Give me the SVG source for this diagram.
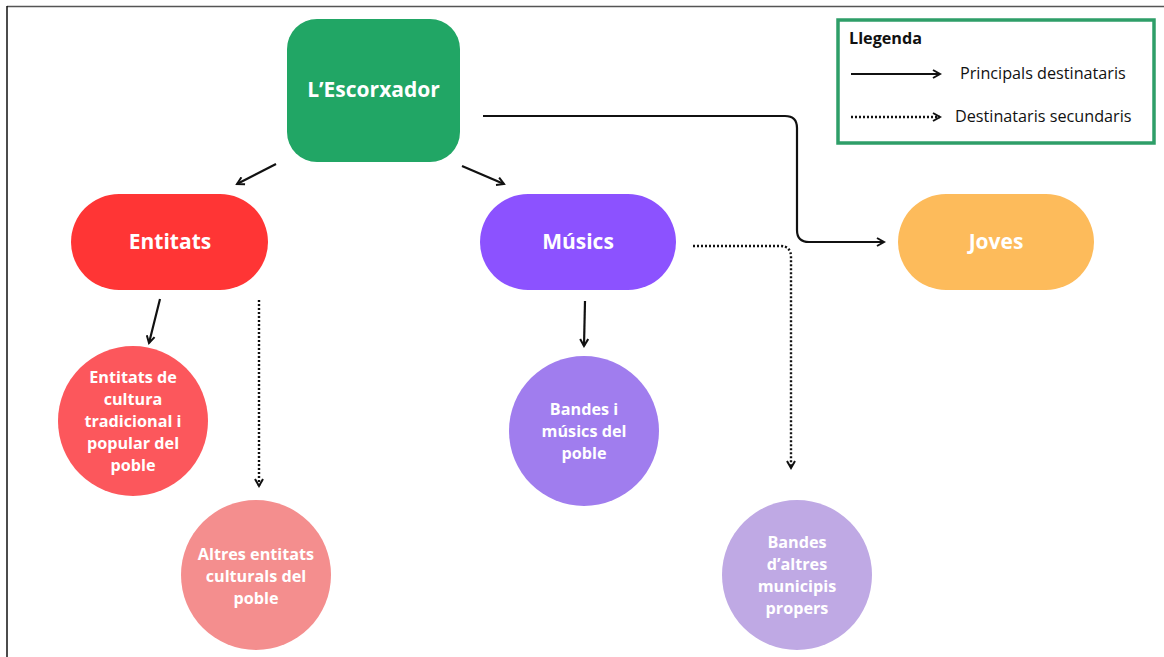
<svg xmlns="http://www.w3.org/2000/svg" width="1164" height="657" viewBox="0 0 1164 657">
<style>
.t{font-family:"Open Sans","Noto Sans","Liberation Sans",sans-serif;font-weight:700;fill:#fff;text-anchor:middle}
.big{font-size:21px}
.sm{font-size:16.2px}
.leg{font-family:"Open Sans","Noto Sans","Liberation Sans",sans-serif;font-size:16.2px;fill:#111}
.s{fill:none;stroke:#111;stroke-width:2.2}
.d{fill:none;stroke:#111;stroke-width:2.4;stroke-dasharray:2 2}
</style>
<defs>
<marker id="ah" viewBox="0 0 10 10" refX="8" refY="5" markerWidth="10" markerHeight="10" markerUnits="userSpaceOnUse" orient="auto">
<path d="M1,1 L8,5 L1,9" fill="none" stroke="#111" stroke-width="2"/>
</marker>
</defs>
<rect width="1164" height="657" fill="#fff"/>
<line x1="7" y1="6.5" x2="1164" y2="6.5" stroke="#555" stroke-width="1.5"/>
<line x1="7" y1="6" x2="7" y2="657" stroke="#111" stroke-width="1.5"/>

<g id="escorxador"><rect x="287" y="19" width="173" height="143" rx="30" fill="#21A665"/><text class="t big" x="373.5" y="97">L’Escorxador</text></g>
<g id="entitats"><rect x="71" y="194" width="197" height="96" rx="48" fill="#FF3535"/><text class="t big" x="170" y="249">Entitats</text></g>
<g id="musics"><rect x="480" y="194" width="196" height="96" rx="48" fill="#8C52FF"/><text class="t big" x="578" y="249">Músics</text></g>
<g id="joves"><rect x="898" y="194" width="196" height="96" rx="48" fill="#FDBB5B"/><text class="t big" x="996" y="249">Joves</text></g>

<g id="cultura"><circle cx="133" cy="421" r="75" fill="#FC575C"/>
<text class="t sm" x="133" y="383">Entitats de</text>
<text class="t sm" x="133" y="405">cultura</text>
<text class="t sm" x="133" y="427">tradicional i</text>
<text class="t sm" x="133" y="449">popular del</text>
<text class="t sm" x="133" y="471">poble</text></g>
<g id="altres"><circle cx="256" cy="575" r="75" fill="#F48E8E"/>
<text class="t sm" x="256" y="560">Altres entitats</text>
<text class="t sm" x="256" y="582">culturals del</text>
<text class="t sm" x="256" y="604">poble</text></g>
<g id="bandes"><circle cx="584" cy="431" r="75" fill="#A07DEE"/>
<text class="t sm" x="584" y="415">Bandes i</text>
<text class="t sm" x="584" y="437">músics del</text>
<text class="t sm" x="584" y="459">poble</text></g>
<g id="bandes2"><circle cx="797" cy="575" r="75" fill="#BFA9E4"/>
<text class="t sm" x="797" y="548">Bandes</text>
<text class="t sm" x="797" y="570">d’altres</text>
<text class="t sm" x="797" y="592">municipis</text>
<text class="t sm" x="797" y="614">propers</text></g>

<g id="connectors">
<line class="s" x1="276" y1="164" x2="237" y2="184" marker-end="url(#ah)"/>
<line class="s" x1="462" y1="166" x2="504" y2="184" marker-end="url(#ah)"/>
<path class="s" d="M483,116 H785 Q797,116 797,128 V230 Q797,242 809,242 H884" marker-end="url(#ah)"/>
<line class="s" x1="160" y1="299" x2="149" y2="343" marker-end="url(#ah)"/>
<line class="d" x1="259" y1="300" x2="259" y2="486" marker-end="url(#ah)"/>
<line class="s" x1="585" y1="301" x2="584" y2="346" marker-end="url(#ah)"/>
<path class="d" d="M693,246 H780 Q791,246 791,257 V468" marker-end="url(#ah)"/>
</g>

<g id="legend">
<rect x="838" y="20" width="316" height="123" fill="none" stroke="#2E9E68" stroke-width="3.5"/>
<text class="leg" x="849" y="44" font-weight="700">Llegenda</text>
<line class="s" x1="851" y1="74" x2="940" y2="74" marker-end="url(#ah)"/>
<text class="leg" x="960" y="79">Principals destinataris</text>
<line class="d" x1="851" y1="117" x2="940" y2="117" marker-end="url(#ah)"/>
<text class="leg" x="955" y="122">Destinataris secundaris</text>
</g>
</svg>
